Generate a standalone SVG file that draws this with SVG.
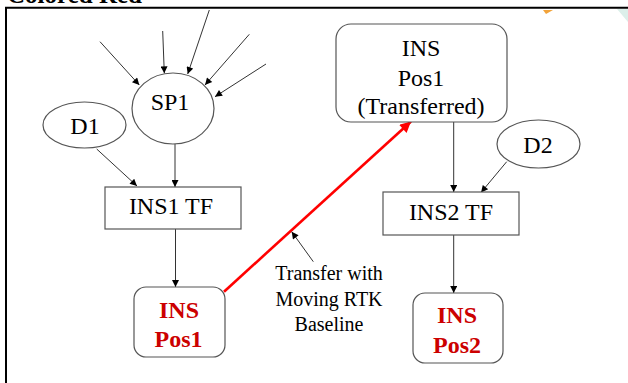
<svg xmlns="http://www.w3.org/2000/svg" width="628" height="383" viewBox="0 0 628 383" font-family="'Liberation Serif', 'Times New Roman', serif">
<style>
.n{fill:#fff;stroke:#555;stroke-width:1.2}
.t{font-size:24px;fill:#000;text-anchor:middle}
.r{font-size:24px;font-weight:bold;fill:#cc0000;text-anchor:middle}
.s{font-size:20px;fill:#000;text-anchor:middle}
.e{stroke:#333;stroke-width:1;fill:none}
</style>
<defs>
<marker id="a" viewBox="0 0 10 10" refX="10" refY="5" markerWidth="9" markerHeight="7" markerUnits="userSpaceOnUse" orient="auto"><path d="M0,0L10,5L0,10z" fill="#000"/></marker>
<marker id="ar" viewBox="0 0 10 10" refX="10" refY="5" markerWidth="14" markerHeight="11" markerUnits="userSpaceOnUse" orient="auto"><path d="M0,0L10,5L0,10z" fill="#ff0000"/></marker>
</defs>
<rect width="628" height="383" fill="#fff"/>
<text x="7" y="3" font-size="25" font-weight="bold" fill="#000">Colored Red</text>
<path d="M543,10 L553,10 L546,14 Z" fill="#f2a33a"/>
<path d="M617,9 L628,9 L628,22 Z" fill="#dcefea"/>
<path d="M5,7.7 H628 M6,7 V383" stroke="#000" stroke-width="2" fill="none"/>
<g id="connectors">
<line class="e" x1="100" y1="41.7" x2="139.3" y2="85" marker-end="url(#a)"/>
<line class="e" x1="162.7" y1="31" x2="164.3" y2="73.3" marker-end="url(#a)"/>
<line class="e" x1="209.3" y1="10" x2="187.7" y2="74" marker-end="url(#a)"/>
<line class="e" x1="249.3" y1="34.3" x2="205" y2="85" marker-end="url(#a)"/>
<line class="e" x1="266" y1="64" x2="215" y2="96.7" marker-end="url(#a)"/>
<line class="e" x1="175" y1="144" x2="175" y2="187" marker-end="url(#a)"/>
<line class="e" x1="96.7" y1="149" x2="137" y2="186" marker-end="url(#a)"/>
<line class="e" x1="175.5" y1="229" x2="175.5" y2="287" marker-end="url(#a)"/>
<line class="e" x1="453.7" y1="122" x2="453.7" y2="192" marker-end="url(#a)"/>
<line class="e" x1="506.7" y1="161.7" x2="481" y2="192.5" marker-end="url(#a)"/>
<line class="e" x1="453.7" y1="235" x2="453.7" y2="293" marker-end="url(#a)"/>
<line x1="224" y1="291.7" x2="411" y2="121.5" stroke="#ff0000" stroke-width="2.6" marker-end="url(#ar)"/>
<line class="e" x1="313.3" y1="261.7" x2="291.7" y2="231.7" marker-end="url(#a)"/>
</g>
<g id="label">
<text class="s" x="329" y="280">Transfer with</text>
<text class="s" x="329" y="306">Moving RTK</text>
<text class="s" x="329" y="331">Baseline</text>
</g>
<g id="SP1"><ellipse class="n" cx="173" cy="108.5" rx="41" ry="35.5"/><text class="t" x="170" y="110">SP1</text></g>
<g id="D1"><ellipse class="n" cx="84.5" cy="125" rx="41.5" ry="23"/><text class="t" x="85" y="134">D1</text></g>
<g id="INS1TF"><rect class="n" x="105" y="187" width="136" height="42"/><text class="t" x="171" y="214">INS1 TF</text></g>
<g id="INSPos1"><rect class="n" x="134" y="287" width="91" height="70" rx="12"/><text class="r" x="179" y="317.5">INS</text><text class="r" x="178.5" y="346.5">Pos1</text></g>
<g id="INSPos1T"><rect class="n" x="336" y="24" width="171" height="98" rx="15"/><text class="t" x="421" y="55.5">INS</text><text class="t" x="421" y="86">Pos1</text><text class="t" x="421" y="114">(Transferred)</text></g>
<g id="D2"><ellipse class="n" cx="538.5" cy="144" rx="41.5" ry="24"/><text class="t" x="538" y="152.5">D2</text></g>
<g id="INS2TF"><rect class="n" x="383" y="192" width="136" height="43"/><text class="t" x="451" y="220">INS2 TF</text></g>
<g id="INSPos2"><rect class="n" x="413" y="293" width="90" height="70" rx="12"/><text class="r" x="457" y="323">INS</text><text class="r" x="457" y="352.5">Pos2</text></g>
</svg>
